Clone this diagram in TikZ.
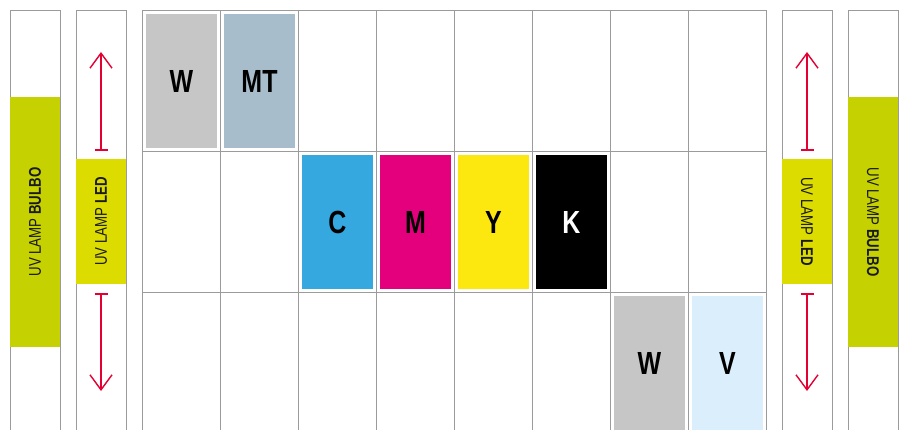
\documentclass[tikz,border=0pt]{standalone}
\usepackage{fontspec}
\setmainfont{Liberation Sans}[FakeStretch=0.78]
\usepackage{xcolor}
\usetikzlibrary{arrows.meta,positioning}
\definecolor{gridgrey}{RGB}{155,155,155}
\definecolor{wgrey}{RGB}{198,198,198}
\definecolor{mtblue}{RGB}{167,189,204}
\definecolor{cyanink}{RGB}{53,168,224}
\definecolor{magink}{RGB}{228,0,125}
\definecolor{yelink}{RGB}{252,231,15}
\definecolor{vlight}{RGB}{218,238,251}
\definecolor{bulbo}{RGB}{197,209,0}
\definecolor{ledy}{RGB}{220,220,0}
\definecolor{uvred}{RGB}{228,0,50}
\definecolor{txt}{RGB}{26,26,26}

\begin{document}
\begin{tikzpicture}[x=1pt,y=-1pt,
  grid/.style={draw=gridgrey,line width=0.9pt},
  ink/.style={inner sep=0pt,minimum width=71pt,minimum height=134pt,font=\fontsize{32}{32}\selectfont\bfseries},
  lamp/.style={inner sep=0pt,minimum width=50pt,text=txt,font=\fontsize{17}{17}\selectfont},
  travel/.style={draw=uvred,line width=1.4pt,{Bar[width=13pt,line width=1.6pt]}-{Straight Barb[length=15pt,width=22pt]}}]
\useasboundingbox (0,0) rectangle (902,430);
% lamp housings
\foreach \x in {10,76,782,848}
   \draw[grid] (\x,430) -- (\x,10) -- (\x+50,10) -- (\x+50,430);
% print grid
\foreach \c in {0,...,8} \draw[grid] (142+78*\c,10) -- (142+78*\c,430);
\foreach \r in {0,1,2} \draw[grid] (142,10+141*\r) -- (766,10+141*\r);
% ink channels
\foreach \name/\lbl/\col/\tc/\c/\r in {w1/W/wgrey/black/0/0,mt/MT/mtblue/black/1/0,
   c/C/cyanink/black/2/1,m/M/magink/black/3/1,y/Y/yelink/black/4/1,k/K/black/white/5/1,
   w2/W/wgrey/black/6/2,v/V/vlight/black/7/2}
   \node[ink,fill=\col,text=\tc] (\name) at (181.5+78*\c,81+141*\r) {\lbl};
% lamps
\node[lamp,fill=bulbo,minimum height=250pt] (bulboL) at (35,222) {\rotatebox{90}{UV LAMP \textbf{BULBO}}};
\node[lamp,fill=ledy,minimum height=125pt] (ledL) at (101,221.5) {\rotatebox{90}{UV LAMP \textbf{LED}}};
\node[lamp,fill=ledy,minimum height=125pt] (ledR) at (807,221.5) {\rotatebox{-90}{UV LAMP \textbf{LED}}};
\node[lamp,fill=bulbo,minimum height=250pt] (bulboR) at (873,222) {\rotatebox{-90}{UV LAMP \textbf{BULBO}}};
% lamp travel
\coordinate (upL) at (101,52);
\coordinate (dnL) at (101,391);
\coordinate (upR) at (807,52);
\coordinate (dnR) at (807,391);
\draw[travel] ([yshift=8pt]ledL.north) -- (upL);
\draw[travel] ([yshift=-9pt]ledL.south) -- (dnL);
\draw[travel] ([yshift=8pt]ledR.north) -- (upR);
\draw[travel] ([yshift=-9pt]ledR.south) -- (dnR);
\end{tikzpicture}
\end{document}
